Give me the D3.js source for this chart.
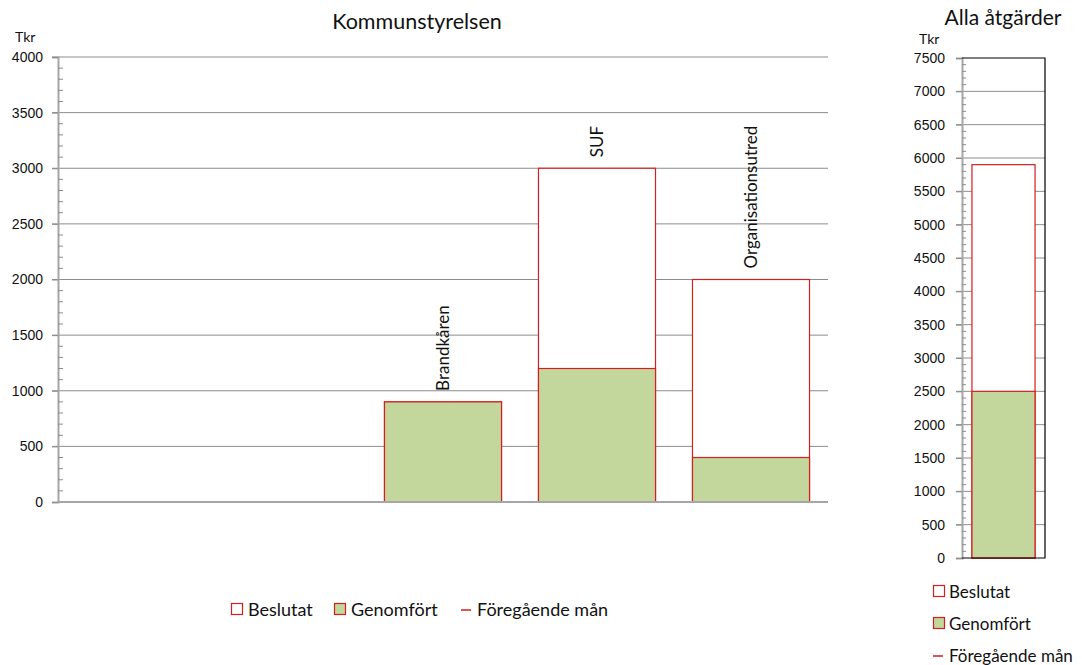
<!DOCTYPE html>
<html>
<head>
<meta charset="utf-8">
<script src="https://cdn.jsdelivr.net/npm/d3@7"></script>
<style>
  body { margin: 0; background: #fff; }
  svg { font-family: Lato, "Open Sans", sans-serif; }
  text { fill: #111; }
</style>
</head>
<body>
<div id="chart"></div>
<script>
// Data
const categories = ['', '', 'Brandkåren', 'SUF', 'Organisationsutred'];
const beslutat = [0, 0, 900, 3000, 2000];
const genomfort = [0, 0, 900, 1200, 400];
const mainTicks = [0, 500, 1000, 1500, 2000, 2500, 3000, 3500, 4000];
const totalTicks = [0, 500, 1000, 1500, 2000, 2500, 3000, 3500, 4000, 4500, 5000, 5500, 6000, 6500, 7000, 7500];
const legendItems = ['Beslutat', 'Genomfört', 'Föregående mån'];

const barRed = '#d21f1f';
const green = '#c3d69b';
const gridGray = '#8c8c8c';

const svg = d3.select('#chart').append('svg')
    .attr('width', 1082)
    .attr('height', 665);

// ---------- main chart ----------
const main = {left: 58, right: 828, top: 57, bottom: 502};

const x = d3.scaleBand()
    .domain(d3.range(categories.length))
    .range([main.left, main.right])
    .paddingInner(0.24)
    .paddingOuter(0.12);

const y = d3.scaleLinear()
    .domain([0, 4000])
    .range([main.bottom, main.top]);

// grid lines
svg.append('g').selectAll('line')
    .data(mainTicks.filter(d => d > 0))
    .join('line')
    .attr('x1', main.left - 6).attr('x2', main.right)
    .attr('y1', d => y(d)).attr('y2', d => y(d))
    .attr('stroke', gridGray).attr('stroke-width', 1);

// y axis with minor ticks
const yAxis = d3.axisLeft(y)
    .tickValues(mainTicks)
    .tickFormat(d3.format('d'))
    .tickSize(6)
    .tickPadding(9);
const yG = svg.append('g')
    .attr('transform', `translate(${main.left},0)`)
    .call(yAxis);
yG.select('.domain').attr('stroke', '#a6a6a6').attr('stroke-width', 2);
yG.selectAll('.tick line').attr('stroke', gridGray);
yG.selectAll('.tick text').style('font-size', '14px').attr('fill', '#111');

svg.append('g').selectAll('line')
    .data(d3.range(0, 4001, 100).filter(d => d % 500 !== 0))
    .join('line')
    .attr('x1', main.left).attr('x2', main.left + 5)
    .attr('y1', d => y(d)).attr('y2', d => y(d))
    .attr('stroke', gridGray);

// bars: Beslutat full height, Genomfört over it
const bars = svg.append('g');
bars.selectAll('.besl')
    .data(beslutat.map((v, i) => ({i, v})).filter(d => d.v > 0))
    .join('rect')
    .attr('x', d => x(d.i))
    .attr('width', x.bandwidth())
    .attr('y', d => y(d.v))
    .attr('height', d => y(0) - y(d.v))
    .attr('fill', '#fff')
    .attr('stroke', barRed).attr('stroke-width', 1.2);

bars.selectAll('.gen')
    .data(genomfort.map((v, i) => ({i, v})).filter(d => d.v > 0))
    .join('rect')
    .attr('x', d => x(d.i))
    .attr('width', x.bandwidth())
    .attr('y', d => y(d.v))
    .attr('height', d => y(0) - y(d.v))
    .attr('fill', green)
    .attr('stroke', barRed).attr('stroke-width', 1.2);

// x axis line
svg.append('line')
    .attr('x1', main.left).attr('x2', main.right)
    .attr('y1', y(0)).attr('y2', y(0))
    .attr('stroke', '#a6a6a6').attr('stroke-width', 2);

// rotated category labels above bars
svg.append('g').selectAll('text')
    .data(categories.map((c, i) => ({c, i})).filter(d => d.c))
    .join('text')
    .attr('transform', d => `translate(${x(d.i) + x.bandwidth() / 2 + 6},${y(Math.max(beslutat[d.i], genomfort[d.i])) - 11}) rotate(-90)`)
    .attr('text-anchor', 'start')
    .style('font-size', '17px')
    .text(d => d.c);

svg.append('text')
    .attr('x', 417).attr('y', 29)
    .attr('text-anchor', 'middle')
    .style('font-size', '21.5px')
    .text('Kommunstyrelsen');

svg.append('text')
    .attr('x', 15).attr('y', 42)
    .style('font-size', '14px')
    .text('Tkr');

// main legend
const legend = svg.append('g').attr('transform', 'translate(231,610)');
const legendX = [0, 103, 230];
legendItems.forEach((name, i) => {
    const g = legend.append('g').attr('transform', `translate(${legendX[i]},0)`);
    if (i < 2) {
        g.append('rect')
            .attr('x', 0.5).attr('y', -6.5)
            .attr('width', 11).attr('height', 11)
            .attr('fill', i === 0 ? '#fff' : green)
            .attr('stroke', barRed).attr('stroke-width', 1.2);
    } else {
        g.append('line')
            .attr('x1', 0).attr('x2', 10)
            .attr('y1', 0).attr('y2', 0)
            .attr('stroke', '#dd5555').attr('stroke-width', 2);
    }
    g.append('text')
        .attr('x', i < 2 ? 17 : 16).attr('y', 6)
        .style('font-size', '18px')
        .text(name);
});

// ---------- total chart ----------
const tot = {left: 962, right: 1045, top: 58, bottom: 558};
const totalBeslutat = d3.sum(beslutat);
const totalGenomfort = d3.sum(genomfort);

const xT = d3.scaleBand()
    .domain(['Alla'])
    .range([tot.left, tot.right])
    .paddingInner(0.24)
    .paddingOuter(0.12);

const yT = d3.scaleLinear()
    .domain([0, 7500])
    .range([tot.bottom, tot.top]);

svg.append('g').selectAll('line')
    .data(totalTicks.filter(d => d > 0 && d < 7500))
    .join('line')
    .attr('x1', tot.left - 6).attr('x2', tot.right)
    .attr('y1', d => yT(d)).attr('y2', d => yT(d))
    .attr('stroke', gridGray);

const yTG = svg.append('g')
    .attr('transform', `translate(${tot.left},0)`)
    .call(d3.axisLeft(yT).tickValues(totalTicks).tickFormat(d3.format('d')).tickSize(6).tickPadding(11));
yTG.select('.domain').attr('stroke', '#a6a6a6').attr('stroke-width', 2);
yTG.selectAll('.tick line').attr('stroke', gridGray);
yTG.selectAll('.tick text').style('font-size', '14px').attr('fill', '#111');

svg.append('g').selectAll('line')
    .data(d3.range(0, 7501, 100).filter(d => d % 500 !== 0))
    .join('line')
    .attr('x1', tot.left).attr('x2', tot.left + 4)
    .attr('y1', d => yT(d)).attr('y2', d => yT(d))
    .attr('stroke', gridGray);

svg.append('rect')
    .attr('x', xT('Alla')).attr('width', xT.bandwidth())
    .attr('y', yT(totalBeslutat)).attr('height', yT(0) - yT(totalBeslutat))
    .attr('fill', '#fff').attr('stroke', barRed).attr('stroke-width', 1.2);
svg.append('rect')
    .attr('x', xT('Alla')).attr('width', xT.bandwidth())
    .attr('y', yT(totalGenomfort)).attr('height', yT(0) - yT(totalGenomfort))
    .attr('fill', green).attr('stroke', barRed).attr('stroke-width', 1.2);

// box border (top, right, bottom)
svg.append('path')
    .attr('d', `M${tot.left},${tot.top}H${tot.right}V${tot.bottom}H${tot.left}`)
    .attr('fill', 'none').attr('stroke', '#000').attr('stroke-width', 1.2);

svg.append('text')
    .attr('x', 1003).attr('y', 25)
    .attr('text-anchor', 'middle')
    .style('font-size', '21px')
    .text('Alla åtgärder');

svg.append('text')
    .attr('x', 919).attr('y', 44)
    .style('font-size', '14px')
    .text('Tkr');

// total legend
legendItems.forEach((name, i) => {
    const g = svg.append('g').attr('transform', `translate(933,${592 + i * 32})`);
    if (i < 2) {
        g.append('rect')
            .attr('x', 0.5).attr('y', -6.5)
            .attr('width', 11).attr('height', 11)
            .attr('fill', i === 0 ? '#fff' : green)
            .attr('stroke', barRed).attr('stroke-width', 1.2);
    } else {
        g.append('line')
            .attr('x1', 0).attr('x2', 10)
            .attr('y1', 0).attr('y2', 0)
            .attr('stroke', '#dd5555').attr('stroke-width', 2);
    }
    g.append('text')
        .attr('x', 16).attr('y', 6)
        .style('font-size', '17px')
        .text(name);
});
</script>
</body>
</html>
